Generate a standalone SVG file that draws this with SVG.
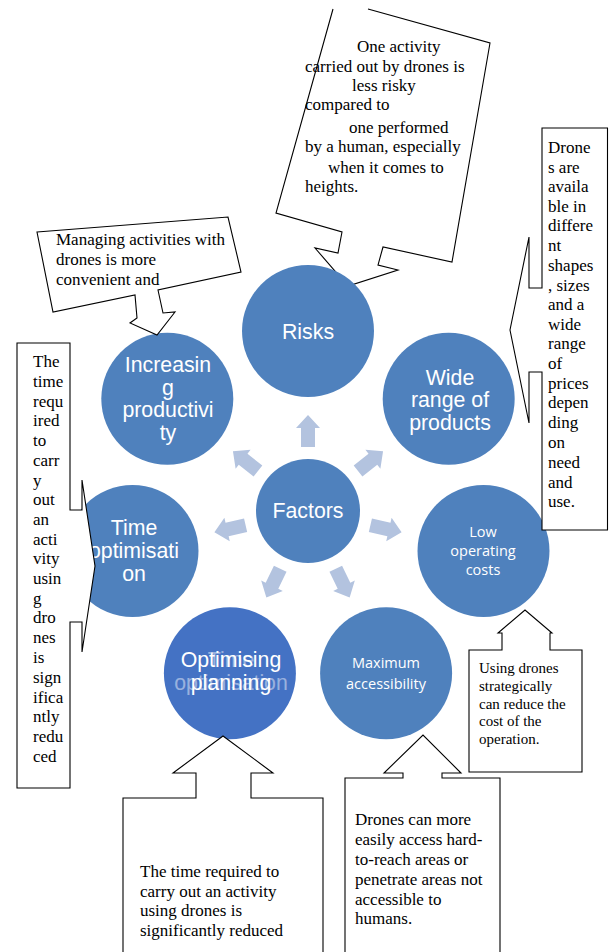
<svg xmlns="http://www.w3.org/2000/svg" xmlns:xlink="http://www.w3.org/1999/xlink" width="609" height="952" viewBox="0 0 609 952">
<style>
.c{fill:#4f81bd}
.c2{fill:#4472c4}
.ct{fill:#ffffff;font-family:"Liberation Sans",Arial,sans-serif;font-size:21.3px;text-anchor:middle}
.cs{fill:#ffffff;font-family:"Open Sans","Liberation Sans",sans-serif;font-size:14.5px;text-anchor:middle}
.co{fill:#ffffff;stroke:#000000;stroke-width:1.1;stroke-linejoin:miter}
.tx{fill:#000000;font-family:"Liberation Serif","Times New Roman",serif;font-size:17px}
.txs{fill:#000000;font-family:"Liberation Serif","Times New Roman",serif;font-size:15px}
.ar{fill:#b3c3df}
</style>
<defs>
<path id="arr" d="M-7,-64 L-7,-83 L-12,-83 L0,-96 L12,-83 L7,-83 L7,-64 Z"/>
</defs>
<rect width="609" height="952" fill="#ffffff"/>

<g id="callout-risks">
<path class="co" d="M368,9 L490,43 L452,262 L383,247 L378,265 L398,270 L348,286 L315,248 L338,253 L342,232 L276,213 L333,9"/>
<text class="tx" x="357" y="52">One activity</text>
<text class="tx" x="305" y="72">carried out by drones is</text>
<text class="tx" x="352" y="91">less risky</text>
<text class="tx" x="305" y="110">compared to</text>
<text class="tx" x="349" y="133">one performed</text>
<text class="tx" x="305" y="152">by a human, especially</text>
<text class="tx" x="328" y="173">when it comes to</text>
<text class="tx" x="305" y="192">heights.</text>
</g>

<g id="connectors">
<use xlink:href="#arr" class="ar" transform="translate(308 511) rotate(0)"/>
<use xlink:href="#arr" class="ar" transform="translate(308 511) rotate(51.43)"/>
<use xlink:href="#arr" class="ar" transform="translate(308 511) rotate(102.86)"/>
<use xlink:href="#arr" class="ar" transform="translate(308 511) rotate(154.29)"/>
<use xlink:href="#arr" class="ar" transform="translate(308 511) rotate(205.71)"/>
<use xlink:href="#arr" class="ar" transform="translate(308 511) rotate(257.14)"/>
<use xlink:href="#arr" class="ar" transform="translate(308 511) rotate(308.57)"/>
</g>

<g id="node-factors">
<circle class="c" cx="308" cy="511" r="52"/>
<text class="ct" x="308" y="518">Factors</text>
</g>
<g id="node-risks">
<circle class="c" cx="308" cy="331" r="66"/>
<text class="ct" x="308" y="339">Risks</text>
</g>
<g id="node-wide-range">
<circle class="c" cx="448.7" cy="398.8" r="66"/>
<text class="ct" x="450" y="385">Wide</text>
<text class="ct" x="450" y="407">range of</text>
<text class="ct" x="450" y="430">products</text>
</g>
<g id="node-low-costs">
<circle class="c" cx="483.5" cy="551" r="66"/>
<text class="cs" x="483" y="537">Low</text>
<text class="cs" x="483" y="556">operating</text>
<text class="cs" x="483" y="575">costs</text>
</g>
<g id="node-max-access">
<circle class="c" cx="386.1" cy="673.2" r="66"/>
<text class="cs" x="386" y="668">Maximum</text>
<text class="cs" x="386" y="689">accessibility</text>
</g>
<g id="node-optimising-planning">
<circle class="c2" cx="229.9" cy="673.2" r="66"/>
<text class="ct" x="231" y="667" opacity="0.45" font-size="18">Time</text>
<text class="ct" x="231" y="690" opacity="0.45" font-size="18">optimisation</text>
<text class="ct" x="231" y="667">Optimising</text>
<text class="ct" x="231" y="690">planning</text>
</g>
<g id="node-time-optimisation">
<circle class="c" cx="132.5" cy="551" r="66"/>
<text class="ct" x="134" y="535">Time</text>
<text class="ct" x="134" y="558">optimisati</text>
<text class="ct" x="134" y="581">on</text>
</g>
<g id="node-increasing-productivity">
<circle class="c" cx="167.3" cy="398.8" r="66"/>
<text class="ct" x="168" y="372">Increasin</text>
<text class="ct" x="168" y="395">g</text>
<text class="ct" x="168" y="417">productivi</text>
<text class="ct" x="168" y="440">ty</text>
</g>

<g id="callout-productivity">
<path class="co" d="M37,232 L228,217 L241,272 L158,290 L163,313 L175,312 L157,335 L130,323 L137,318 L135,295 L53,312 Z"/>
<text class="tx" x="56" y="245">Managing activities with</text>
<text class="tx" x="56" y="265">drones is more</text>
<text class="tx" x="56" y="285">convenient and</text>
</g>

<g id="callout-wide-range">
<path class="co" d="M542,128 L607.5,128 L607.5,530 L542,530 L542,372 L529,372 L529,423 L510,330 L529,237 L529,288 L542,288 Z"/>
<text class="tx" x="548" y="153">Drone</text>
<text class="tx" x="548" y="173">s are</text>
<text class="tx" x="548" y="192">availa</text>
<text class="tx" x="548" y="212">ble in</text>
<text class="tx" x="548" y="231">differe</text>
<text class="tx" x="548" y="251">nt</text>
<text class="tx" x="548" y="271">shapes</text>
<text class="tx" x="548" y="291">, sizes</text>
<text class="tx" x="548" y="310">and a</text>
<text class="tx" x="548" y="330">wide</text>
<text class="tx" x="548" y="349">range</text>
<text class="tx" x="548" y="369">of</text>
<text class="tx" x="548" y="389">prices</text>
<text class="tx" x="548" y="408">depen</text>
<text class="tx" x="548" y="428">ding</text>
<text class="tx" x="548" y="448">on</text>
<text class="tx" x="548" y="468">need</text>
<text class="tx" x="548" y="488">and</text>
<text class="tx" x="548" y="507">use.</text>
</g>

<g id="callout-time-optimisation">
<path class="co" d="M17,343 L70,343 L70,510 L82,510 L82,480 L95,566 L82,652 L82,622 L70,622 L70,788 L17,788 Z"/>
<text class="tx" x="33" y="367">The</text>
<text class="tx" x="33" y="387">time</text>
<text class="tx" x="33" y="407">requ</text>
<text class="tx" x="33" y="426">ired</text>
<text class="tx" x="33" y="446">to</text>
<text class="tx" x="33" y="466">carr</text>
<text class="tx" x="33" y="486">y</text>
<text class="tx" x="33" y="505">out</text>
<text class="tx" x="33" y="525">an</text>
<text class="tx" x="33" y="545">acti</text>
<text class="tx" x="33" y="564">vity</text>
<text class="tx" x="33" y="584">usin</text>
<text class="tx" x="33" y="604">g</text>
<text class="tx" x="33" y="623">dro</text>
<text class="tx" x="33" y="643">nes</text>
<text class="tx" x="33" y="663">is</text>
<text class="tx" x="33" y="683">sign</text>
<text class="tx" x="33" y="703">ifica</text>
<text class="tx" x="33" y="722">ntly</text>
<text class="tx" x="33" y="742">redu</text>
<text class="tx" x="33" y="762">ced</text>
</g>

<g id="callout-low-costs">
<path class="co" d="M469,650 L502,650 L502,633 L498,633 L525,610 L552,633 L550,633 L550,650 L582,650 L582,772 L469,772 Z"/>
<text class="txs" x="479" y="673">Using drones</text>
<text class="txs" x="479" y="691">strategically</text>
<text class="txs" x="479" y="709">can reduce the</text>
<text class="txs" x="479" y="726">cost of the</text>
<text class="txs" x="479" y="744">operation.</text>
</g>

<g id="callout-max-access">
<path class="co" d="M345,960 L345,778 L403,778 L403,773 L384,773 L423,735 L461,773 L442,773 L442,778 L500,778 L500,960"/>
<text class="tx" x="355" y="825">Drones can more</text>
<text class="tx" x="355" y="845">easily access hard-</text>
<text class="tx" x="355" y="865">to-reach areas or</text>
<text class="tx" x="355" y="885">penetrate areas not</text>
<text class="tx" x="355" y="905">accessible to</text>
<text class="tx" x="355" y="924">humans.</text>
</g>

<g id="callout-optimising-planning">
<path class="co" d="M123,960 L123,798 L196,798 L196,773 L173,773 L223,736 L273,773 L251,773 L251,798 L323,798 L323,960"/>
<text class="tx" x="140" y="877">The time required to</text>
<text class="tx" x="140" y="897">carry out an activity</text>
<text class="tx" x="140" y="916">using drones is</text>
<text class="tx" x="140" y="936">significantly reduced</text>
</g>
</svg>
